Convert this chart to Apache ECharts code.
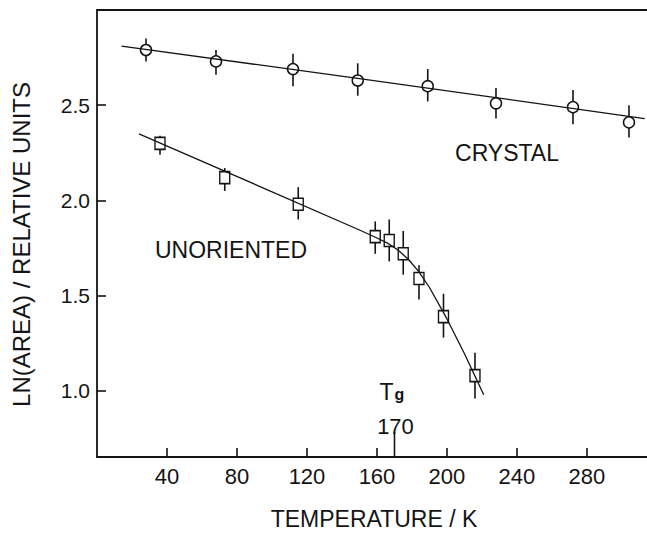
<!DOCTYPE html>
<html><head><meta charset="utf-8">
<script src="https://cdn.jsdelivr.net/npm/echarts@6/dist/echarts.min.js"></script>
<style>html,body{margin:0;padding:0;background:#fff}#c{width:647px;height:535px}</style>
</head><body><div id="c"></div>
<script>
// ---- data ----
const xTicks = [40, 80, 120, 160, 200, 240, 280];
const yTicks = [1.0, 1.5, 2.0, 2.5];
const crystalT    = [28, 68, 112, 149, 189, 228, 272, 304];
const crystalLn   = [2.79, 2.73, 2.69, 2.63, 2.60, 2.51, 2.49, 2.41];
const crystalLow  = [2.73, 2.66, 2.60, 2.55, 2.52, 2.43, 2.40, 2.33];
const crystalHigh = [2.85, 2.79, 2.77, 2.72, 2.69, 2.59, 2.58, 2.50];
const crystalFitT  = [14, 150, 313];
const crystalFitLn = [2.81, 2.64, 2.43];
const unorT    = [36, 73, 115, 159, 167, 175, 184, 198, 216];
const unorLn   = [2.30, 2.12, 1.98, 1.81, 1.79, 1.72, 1.59, 1.39, 1.08];
const unorLow  = [2.24, 2.05, 1.90, 1.72, 1.68, 1.61, 1.48, 1.28, 0.96];
const unorHigh = [2.34, 2.17, 2.07, 1.89, 1.90, 1.84, 1.66, 1.51, 1.20];
const unorFitT  = [24, 150, 160, 166, 172, 178, 184, 190, 200, 210, 221];
const unorFitLn = [2.35, 1.845, 1.803, 1.776, 1.740, 1.690, 1.625, 1.543, 1.378, 1.195, 0.98];
const tgT = 170;
const xMin = 0, xMax = 314.3, yMin = 0.653, yMax = 3.0;

const INK = '#141414';
const FONT = '"Liberation Sans", Arial, sans-serif';

function errSeries(T, lo, hi) {
  return {
    type: 'custom', silent: true, z: 1, clip: false,
    encode: { x: 0, y: [1, 2] },
    data: T.map((t, i) => [t, lo[i], hi[i]]),
    renderItem(params, api) {
      const a = api.coord([api.value(0), api.value(1)]);
      const b = api.coord([api.value(0), api.value(2)]);
      return { type: 'line', shape: { x1: a[0], y1: a[1], x2: b[0], y2: b[1] },
               style: { stroke: INK, lineWidth: 1.6 } };
    }
  };
}

const chart = echarts.init(document.getElementById('c'), null, { renderer: 'svg' });
chart.setOption({
  backgroundColor: '#fff',
  animation: false,
  grid: { left: 97, top: 10, width: 550, height: 453, containLabel: false },
  xAxis: [{
    type: 'value', min: xMin, max: xMax, position: 'bottom',
    name: 'TEMPERATURE / K', nameLocation: 'middle', nameGap: 50,
    nameTextStyle: { fontFamily: FONT, fontSize: 23, color: INK, padding: [0, 0, 0, 4] },
    axisLine: { show: true, lineStyle: { color: INK, width: 1.8 } },
    axisTick: { show: true, inside: true, length: 9, customValues: xTicks, lineStyle: { color: INK, width: 1.6 } },
    axisLabel: { customValues: xTicks, fontFamily: FONT, fontSize: 22, color: INK, margin: 8 },
    splitLine: { show: false }
  }, {
    type: 'value', min: xMin, max: xMax, position: 'top',
    axisLine: { show: true, lineStyle: { color: INK, width: 1.8 } },
    axisTick: { show: false }, axisLabel: { show: false }, splitLine: { show: false }
  }],
  yAxis: {
    type: 'value', min: yMin, max: yMax,
    name: 'LN(AREA) / RELATIVE UNITS', nameLocation: 'middle', nameGap: 76, nameRotate: 90,
    nameTextStyle: { fontFamily: FONT, fontSize: 24, color: INK, verticalAlign: 'middle', padding: [0, 22, 0, 0] },
    axisLine: { show: true, lineStyle: { color: INK, width: 1.8 } },
    axisTick: { show: true, inside: true, length: 9, customValues: yTicks, lineStyle: { color: INK, width: 1.6 } },
    axisLabel: { customValues: yTicks, fontFamily: FONT, fontSize: 21, color: INK, margin: 7,
                 formatter: v => v.toFixed(1) },
    splitLine: { show: false }
  },
  series: [
    errSeries(crystalT, crystalLow, crystalHigh),
    errSeries(unorT, unorLow, unorHigh),
    { type: 'scatter', name: 'CRYSTAL', z: 2, symbol: 'circle', symbolSize: 11,
      itemStyle: { color: '#fff', borderColor: INK, borderWidth: 1.5, opacity: 1 },
      data: crystalT.map((t, i) => [t, crystalLn[i]]) },
    { type: 'scatter', name: 'UNORIENTED', z: 2, symbol: 'rect', symbolSize: [10, 12],
      itemStyle: { color: '#fff', borderColor: INK, borderWidth: 1.5, opacity: 1 },
      data: unorT.map((t, i) => [t, unorLn[i]]) },
    { type: 'line', z: 3, showSymbol: false, silent: true,
      lineStyle: { color: INK, width: 1.3 },
      data: crystalFitT.map((t, i) => [t, crystalFitLn[i]]) },
    { type: 'line', z: 3, showSymbol: false, silent: true, smooth: false,
      lineStyle: { color: INK, width: 1.3 },
      data: unorFitT.map((t, i) => [t, unorFitLn[i]]) },
    { type: 'custom', silent: true, z: 4, clip: false,
      encode: { x: 0, y: 1 },
      data: [[tgT, yMin]],
      renderItem(params, api) {
        const p = api.coord([api.value(0), api.value(1)]);
        return { type: 'group', children: [
          { type: 'line', shape: { x1: p[0], y1: p[1], x2: p[0], y2: p[1] - 25 },
            style: { stroke: INK, lineWidth: 1.6 } },
          { type: 'text', style: { text: String(tgT), x: p[0] + 1, y: p[1] - 31, align: 'center', verticalAlign: 'middle',
            font: '22px ' + FONT, fill: INK } },
          { type: 'text', style: { text: 'T', x: p[0] - 8, y: p[1] - 65, align: 'center', verticalAlign: 'middle',
            font: '23px ' + FONT, fill: INK } },
          { type: 'text', style: { text: 'g', x: p[0] + 5, y: p[1] - 63, align: 'center', verticalAlign: 'middle',
            font: 'bold 16px ' + FONT, fill: INK } }
        ] };
      }
    }
  ],
  graphic: [
    { type: 'text', x: 507, y: 153, style: { text: 'CRYSTAL', align: 'center', verticalAlign: 'middle',
      font: '23px ' + FONT, fill: INK } },
    { type: 'text', x: 231, y: 250, style: { text: 'UNORIENTED', align: 'center', verticalAlign: 'middle',
      font: '23px ' + FONT, fill: INK } }
  ]
});
</script>
</body></html>
